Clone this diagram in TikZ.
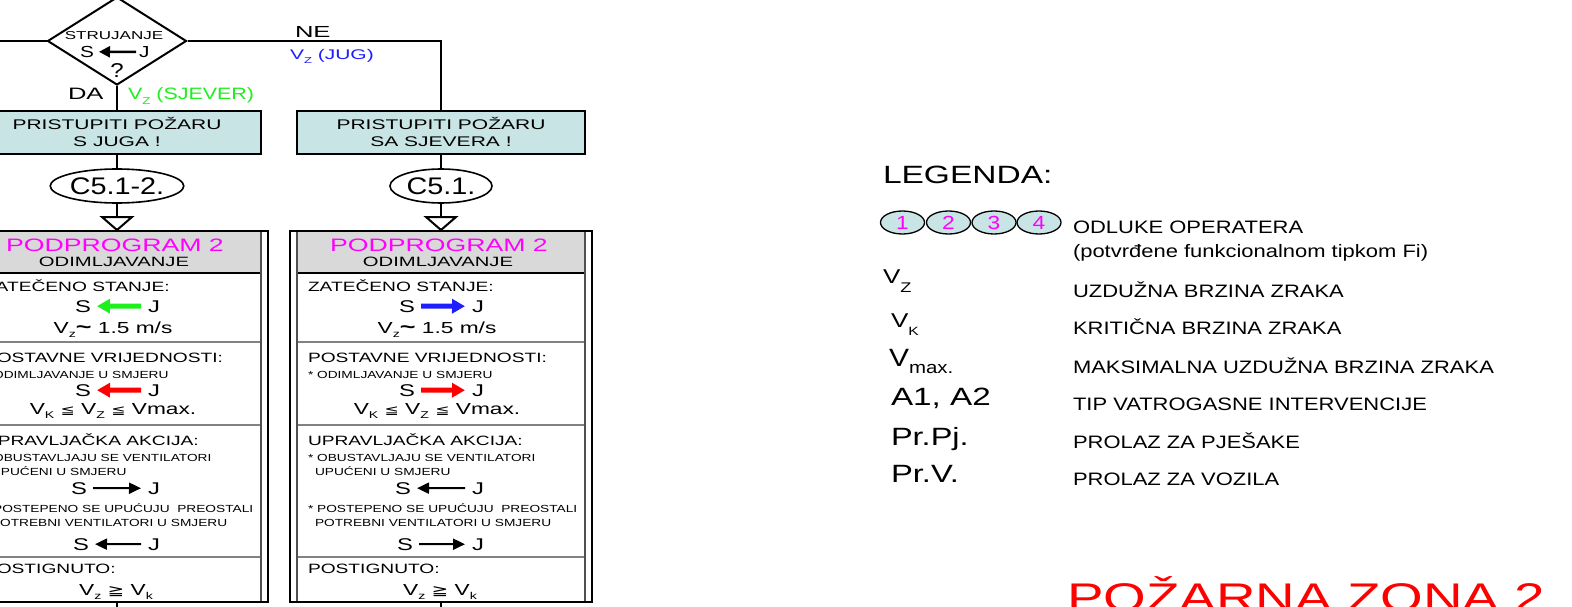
\documentclass[tikz,border=0pt]{standalone}
\usepackage{fontspec}
\setmainfont{Liberation Sans}
\newfontfamily\djv{DejaVu Sans}
\usepackage{graphicx}
\usetikzlibrary{arrows.meta,shapes.geometric}
\definecolor{tealf}{RGB}{200,228,228}
\definecolor{hdrf}{RGB}{217,217,217}
\definecolor{magc}{RGB}{255,0,255}
\definecolor{grnc}{RGB}{30,240,30}
\definecolor{bluc}{RGB}{30,30,255}
\definecolor{redc}{RGB}{255,0,0}
\definecolor{sepc}{RGB}{130,130,130}
\definecolor{innc}{RGB}{80,80,80}
\newcommand\tx[3]{\scalebox{#1}[1]{\fontsize{#2}{#2}\selectfont #3}}
\newcommand\hd[1]{\tx{1.42}{13.5}{#1}}
\newcommand\smt[1]{\tx{1.33}{10.3}{#1}}
\newcommand\sj[1]{\tx{1.4}{17}{#1}}
\newcommand\vl[1]{\tx{1.42}{16}{#1}}
\newcommand\sbs[1]{\raisebox{-0.25em}{\scalebox{0.62}{#1}}}
\newcommand\myle{{\djv\fontsize{12}{12}\selectfont ≦}}
\newcommand\myge{{\djv\fontsize{14}{14}\selectfont ≧}}
\tikzset{
  ln/.style={line width=2pt},
  tw/.style={inner sep=0pt, outer sep=0pt, anchor=base west},
  tc/.style={inner sep=0pt, outer sep=0pt, anchor=base},
  te/.style={inner sep=0pt, outer sep=0pt, anchor=base east},
  tealbox/.style={draw, line width=2pt, fill=tealf, minimum width=288pt, minimum height=43pt, inner sep=0pt},
  ovalc/.style={ellipse, draw, line width=1.6pt, fill=white, minimum width=102pt, minimum height=34pt, inner sep=0pt},
  lell/.style={ellipse, draw, line width=1.3pt, fill=tealf, minimum width=44pt, minimum height=23pt, inner sep=0pt},
  pframe/.style={draw, line width=2pt, minimum width=302pt, minimum height=371pt, inner sep=0pt},
  sepl/.style={line width=1.5pt, draw=sepc},
  innl/.style={line width=1.5pt, draw=innc},
  bigbase/.style={line width=5pt, shorten <=6pt, shorten >=7pt},
  grnL/.style={bigbase, draw=grnc, {Triangle[length=13pt,width=14pt]}-},
  redL/.style={bigbase, draw=redc, {Triangle[length=13pt,width=14pt]}-},
  redR/.style={bigbase, draw=redc, -{Triangle[length=13pt,width=14pt]}},
  bluR/.style={bigbase, draw=bluc, -{Triangle[length=13pt,width=14pt]}},
  blkL/.style={line width=2pt, shorten <=6pt, shorten >=7pt, {Triangle[length=12pt,width=11pt]}-},
  blkR/.style={line width=2pt, shorten <=6pt, shorten >=7pt, -{Triangle[length=12pt,width=11pt]}},
  dArr/.style={line width=2.5pt, shorten <=3pt, shorten >=5pt, -{Triangle[length=11pt,width=11pt]}}
}
\newcommand\podbox[6]{%
\begin{scope}[shift={(#2,0)}]
\fill[hdrf] (-144,231) rectangle (144,273);
\draw[sepl] (-144,342) -- (144,342);
\draw[sepl] (-144,425) -- (144,425);
\draw[sepl] (-144,557) -- (144,557);
\draw[line width=1.6pt] (-144,273) -- (144,273);
\draw[innl] (-144,231) -- (-144,602);
\draw[innl] (144,231) -- (144,602);
\node[pframe] (#1f) at (0,416.5) {};
\node[tc] (#1h1) at (-2,251) {\tx{1.48}{18}{\color{magc}PODPROGRAM 2}};
\node[tc] (#1h2) at (-3,266) {\tx{1.5}{13.5}{ODIMLJAVANJE}};
\node[tw] (#1z) at (-133,291) {\hd{ZATEČENO STANJE:}};
\node[te] (#1s1) at (-26,312) {\sj{S}};
\node[tw] (#1j1) at (31,312) {\sj{J}};
\draw[#3] (#1s1) -- (#1j1);
\node[tc] (#1v1) at (-4,333) {\vl{V\sbs{z}{\fontsize{19}{19}\selectfont\textbf{\textasciitilde}} 1.5 m/s}};
\node[tw] (#1p) at (-133,362) {\hd{POSTAVNE VRIJEDNOSTI:}};
\node[tw] (#1p1) at (-133,378) {\smt{* ODIMLJAVANJE U SMJERU}};
\node[te] (#1s2) at (-26,396) {\sj{S}};
\node[tw] (#1j2) at (31,396) {\sj{J}};
\draw[#4] (#1s2) -- (#1j2);
\node[tc] (#1v2) at (-4,414) {\vl{V\sbs{K}\ \myle{}\ V\sbs{Z}\ \myle{}\ Vmax.}};
\node[tw] (#1u) at (-133,445) {\hd{UPRAVLJAČKA AKCIJA:}};
\node[tw] (#1u1) at (-133,461) {\smt{* OBUSTAVLJAJU SE VENTILATORI}};
\node[tw] (#1u2) at (-126,475) {\smt{UPUĆENI U SMJERU}};
\node[te] (#1s3) at (-30,494) {\sj{S}};
\node[tw] (#1j3) at (31,494) {\sj{J}};
\draw[#5] (#1s3) -- (#1j3);
\node[tw] (#1u3) at (-133,512) {\smt{* POSTEPENO SE UPUĆUJU\ \ PREOSTALI}};
\node[tw] (#1u4) at (-126,526) {\smt{POTREBNI VENTILATORI U SMJERU}};
\node[te] (#1s4) at (-28,550) {\sj{S}};
\node[tw] (#1j4) at (31,550) {\sj{J}};
\draw[#6] (#1s4) -- (#1j4);
\node[tw] (#1g) at (-133,573) {\hd{POSTIGNUTO:}};
\node[tc] (#1v3) at (-1,595) {\vl{V\sbs{z} \myge{} V\sbs{k}}};
\end{scope}}
\begin{document}
\begin{tikzpicture}[x=1pt, y=-1pt]
\useasboundingbox (0,0) rectangle (1572,607);
\fill[white] (0,0) rectangle (1572,607);
% decision
\node[diamond, draw, line width=2pt, minimum width=139pt, minimum height=88pt, inner sep=0pt] (dia) at (117,41) {};
\node[tc] (dst) at (114,39.5) {\tx{1.48}{11.5}{STRUJANJE}};
\node[te] (ds) at (94,57.3) {\tx{1.3}{16}{S}};
\node[tw] (dj) at (139,57.3) {\tx{1.3}{16}{J}};
\draw[dArr] (dj) -- (ds);
\node[tc] (dq) at (117,78) {\tx{1.2}{20}{?}};
\coordinate (lend) at (-5,41);
\draw[ln] (dia.west) -- (lend);
% boxes
\node[tealbox] (tbL) at (117,132.5) {};
\node[tealbox] (tbR) at (441,132.5) {};
\draw[ln] (dia.south) -- (tbL.north);
\draw[ln] (dia.east) -| (tbR.north);
\node[tw] (ne) at (295,37.3) {\tx{1.6}{16}{NE}};
\node[tw] (jug) at (290,60) {\tx{1.5}{14}{\color{bluc}V\sbs{Z} (JUG)}};
\node[tw] (da) at (68,100) {\tx{1.55}{16.5}{DA}};
\node[tw] (sjv) at (128,100) {\tx{1.3}{16.5}{\color{grnc}V\sbs{Z} (SJEVER)}};
\node[tc] (tL1) at (117,130) {\tx{1.5}{14}{PRISTUPITI POŽARU}};
\node[tc] (tL2) at (117,146.5) {\tx{1.5}{14}{S JUGA !}};
\node[tc] (tR1) at (441,130) {\tx{1.5}{14}{PRISTUPITI POŽARU}};
\node[tc] (tR2) at (441,146.5) {\tx{1.5}{14}{SA SJEVERA !}};
% connectors
\node[ovalc] (eL) at (117,186) {\tx{1.2}{24}{C5.1-2.}};
\node[ovalc] (eR) at (441,186) {\tx{1.2}{24}{C5.1.}};
\draw[ln] (tbL.south) -- (eL.north);
\draw[ln] (tbR.south) -- (eR.north);
% subprogram boxes
\podbox{L}{117}{grnL}{redL}{blkR}{blkL}
\podbox{R}{441}{bluR}{redR}{blkL}{blkR}
\coordinate (trL) at (117,217);
\coordinate (trR) at (441,217);
\draw[ln] (eL.south) -- (trL);
\draw[ln] (eR.south) -- (trR);
\draw[ln, fill=white, line join=miter] (trL) ++(-15,0) -- ++(30,0) -- (Lf.north) -- cycle;
\draw[ln, fill=white, line join=miter] (trR) ++(-15,0) -- ++(30,0) -- (Rf.north) -- cycle;
\coordinate (botL) at (117,612);
\coordinate (botR) at (441,612);
\draw[line width=1.5pt] (Lf.south) -- (botL);
\draw[line width=1.5pt] (Rf.south) -- (botR);
% legend
\node[tw] (leg) at (883,183) {\tx{1.34}{25}{LEGENDA:}};
\node[lell] (n1) at (902.5,222.5) {\tx{1.2}{19}{\color{magc}1}};
\node[lell] (n2) at (948.5,222.5) {\tx{1.2}{19}{\color{magc}2}};
\node[lell] (n3) at (994,222.5) {\tx{1.2}{19}{\color{magc}3}};
\node[lell] (n4) at (1039,222.5) {\tx{1.2}{19}{\color{magc}4}};
\node[tw] (d1) at (1073,233) {\tx{1.22}{18}{ODLUKE OPERATERA}};
\node[tw] (d1b) at (1073,257) {\tx{1.22}{18}{(potvrđene funkcionalnom tipkom Fi)}};
\node[tw] (d2) at (1073,297) {\tx{1.22}{18}{UZDUŽNA BRZINA ZRAKA}};
\node[tw] (d3) at (1073,334) {\tx{1.22}{18}{KRITIČNA BRZINA ZRAKA}};
\node[tw] (d4) at (1073,373) {\tx{1.22}{18}{MAKSIMALNA UZDUŽNA BRZINA ZRAKA}};
\node[tw] (d5) at (1073,410) {\tx{1.22}{18}{TIP VATROGASNE INTERVENCIJE}};
\node[tw] (d6) at (1073,448) {\tx{1.22}{18}{PROLAZ ZA PJEŠAKE}};
\node[tw] (d7) at (1073,485) {\tx{1.22}{18}{PROLAZ ZA VOZILA}};
\node[tw] (s2) at (883,283) {\tx{1.3}{20}{V\raisebox{-9pt}{\fontsize{14}{14}\selectfont Z}}};
\node[tw] (s3) at (891,327) {\tx{1.3}{20}{V\raisebox{-8pt}{\fontsize{12}{12}\selectfont K}}};
\node[tw] (s4) at (889,366) {\tx{1.2}{25}{V\raisebox{-7pt}{\fontsize{17}{17}\selectfont max.}}};
\node[tw] (s5) at (891,405) {\tx{1.33}{25}{A1, A2}};
\node[tw] (s6) at (891,445) {\tx{1.3}{25}{Pr.Pj.}};
\node[tw] (s7) at (891,482) {\tx{1.31}{25}{Pr.V.}};
\node[tw] (zona) at (1067,611) {\tx{1.37}{40}{\color{redc}POŽARNA ZONA 2}};
\end{tikzpicture}
\end{document}
